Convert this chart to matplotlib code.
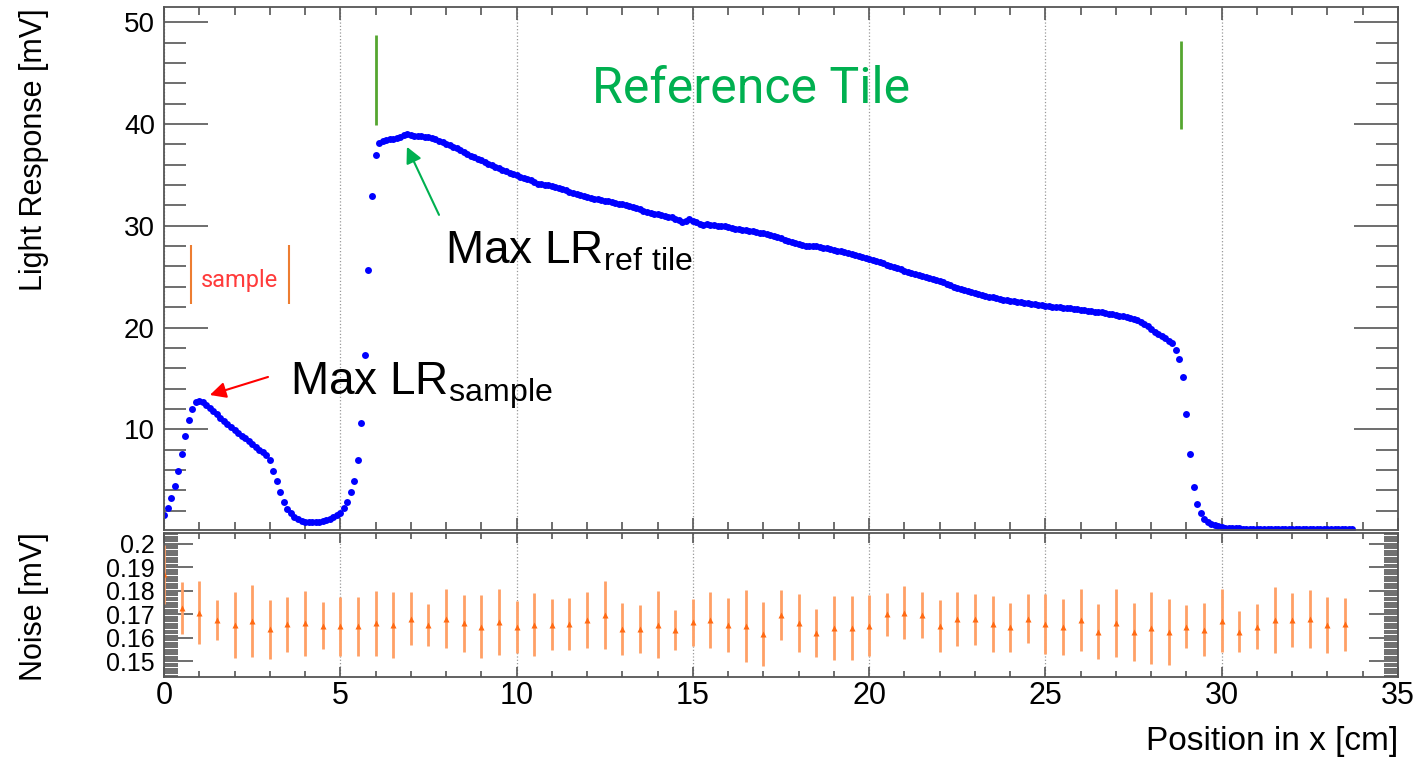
import numpy as np
import matplotlib
matplotlib.use("Agg")
import matplotlib.pyplot as plt
from matplotlib.ticker import MultipleLocator

plt.rcParams['font.family'] = 'Liberation Sans'
plt.rcParams['mathtext.fontset'] = 'custom'
plt.rcParams['mathtext.rm'] = 'Liberation Sans'

# light response along x, scanned in 1 mm steps [mV]
lr_step = 0.1
light_response = [
    1.6, 2.3, 3.2, 4.4, 5.9, 7.6, 9.3, 10.9, 12.0, 12.7,
    12.8, 12.7, 12.4, 12.1, 11.8, 11.5, 11.1, 10.8, 10.5, 10.2,
    9.9, 9.6, 9.35, 9.1, 8.8, 8.55, 8.3, 8.0, 7.75, 7.45,
    7.0, 5.9, 4.9, 3.8, 2.9, 2.2, 1.75, 1.4, 1.15, 1.0,
    0.9, 0.85, 0.85, 0.85, 0.88, 0.95, 1.05, 1.2, 1.35, 1.55,
    1.8, 2.3, 2.9, 3.8, 4.9, 7.0, 10.6, 17.3, 25.7, 32.9,
    37.0, 38.1, 38.3, 38.4, 38.5, 38.5, 38.6, 38.75, 38.9, 39.0,
    38.9, 38.8, 38.8, 38.8, 38.75, 38.7, 38.65, 38.5, 38.35, 38.2,
    38.0, 37.9, 37.75, 37.6, 37.4, 37.25, 37.1, 36.9, 36.75, 36.6,
    36.45, 36.3, 36.1, 35.95, 35.8, 35.65, 35.5, 35.35, 35.2, 35.05,
    34.95, 34.8, 34.7, 34.55, 34.45, 34.3, 34.15, 34.1, 34.0, 34.0,
    33.9, 33.85, 33.7, 33.6, 33.5, 33.35, 33.2, 33.15, 33.0, 32.9,
    32.8, 32.7, 32.65, 32.6, 32.5, 32.45, 32.4, 32.3, 32.2, 32.15,
    32.1, 32.0, 31.9, 31.8, 31.7, 31.6, 31.5, 31.4, 31.3, 31.2,
    31.15, 31.05, 31.0, 30.9, 30.85, 30.7, 30.55, 30.4, 30.45, 30.65,
    30.5, 30.35, 30.2, 30.1, 30.15, 30.05, 30.05, 30.0, 29.95, 29.95,
    29.85, 29.8, 29.7, 29.7, 29.6, 29.55, 29.5, 29.45, 29.4, 29.3,
    29.25, 29.15, 29.1, 29.0, 28.85, 28.75, 28.65, 28.55, 28.4, 28.3,
    28.2, 28.1, 28.05, 28.0, 28.05, 28.0, 27.95, 27.85, 27.8, 27.7,
    27.65, 27.55, 27.5, 27.4, 27.3, 27.25, 27.15, 27.05, 26.95, 26.85,
    26.75, 26.6, 26.5, 26.4, 26.3, 26.15, 26.05, 25.95, 25.85, 25.75,
    25.6, 25.5, 25.4, 25.3, 25.15, 25.05, 24.95, 24.9, 24.8, 24.7,
    24.55, 24.45, 24.3, 24.15, 24.0, 23.9, 23.8, 23.7, 23.6, 23.45,
    23.35, 23.3, 23.2, 23.1, 23.0, 22.95, 22.9, 22.85, 22.75, 22.7,
    22.65, 22.6, 22.55, 22.5, 22.45, 22.4, 22.3, 22.3, 22.2, 22.2,
    22.15, 22.1, 22.05, 22.0, 22.0, 21.95, 21.9, 21.9, 21.85, 21.8,
    21.75, 21.7, 21.65, 21.6, 21.55, 21.55, 21.5, 21.4, 21.35, 21.3,
    21.2, 21.15, 21.1, 21.0, 20.9, 20.8, 20.7, 20.55, 20.35, 20.1,
    19.85, 19.6, 19.35, 19.15, 18.95, 18.7, 18.45, 17.8, 16.9, 15.1,
    11.5, 7.6, 4.3, 2.65, 1.8, 1.2, 0.9, 0.7, 0.55, 0.45,
    0.38, 0.33, 0.3, 0.28, 0.26, 0.25, 0.24, 0.23, 0.22, 0.22,
    0.21, 0.21, 0.2, 0.2, 0.2, 0.19, 0.19, 0.19, 0.18, 0.18,
    0.18, 0.18, 0.18, 0.17, 0.17, 0.17, 0.17, 0.17, 0.17, 0.16,
    0.16, 0.16, 0.16, 0.16, 0.16, 0.16, 0.16, 0.15,
]
lr_pos = np.arange(len(light_response)) * lr_step

# pedestal noise every 5 mm [mV]
noise_step = 0.5
noise = [
    0.1869, 0.1728, 0.1707, 0.1676, 0.1654, 0.1672, 0.1637, 0.1658, 0.1662, 0.1652,
    0.1650, 0.1650, 0.1662, 0.1654, 0.1681, 0.1655, 0.1681, 0.1662, 0.1648, 0.1669,
    0.1646, 0.1655, 0.1655, 0.1660, 0.1676, 0.1697, 0.1638, 0.1638, 0.1655, 0.1634,
    0.1667, 0.1676, 0.1655, 0.1652, 0.1616, 0.1697, 0.1662, 0.1620, 0.1641, 0.1641,
    0.1652, 0.1700, 0.1707, 0.1697, 0.1652, 0.1680, 0.1679, 0.1658, 0.1645, 0.1681,
    0.1658, 0.1648, 0.1676, 0.1627, 0.1662, 0.1627, 0.1641, 0.1627, 0.1648, 0.1634,
    0.1672, 0.1627, 0.1648, 0.1676, 0.1676, 0.1681, 0.1655, 0.1658,
]
noise_err = [
    0.0127, 0.0110, 0.0135, 0.0086, 0.0140, 0.0153, 0.0125, 0.0116, 0.0139, 0.0100,
    0.0125, 0.0125, 0.0137, 0.0140, 0.0113, 0.0090, 0.0125, 0.0120, 0.0135, 0.0140,
    0.0110, 0.0134, 0.0108, 0.0110, 0.0120, 0.0143, 0.0110, 0.0102, 0.0142, 0.0085,
    0.0100, 0.0120, 0.0116, 0.0153, 0.0136, 0.0105, 0.0123, 0.0103, 0.0135, 0.0136,
    0.0130, 0.0090, 0.0112, 0.0098, 0.0110, 0.0116, 0.0109, 0.0118, 0.0105, 0.0104,
    0.0127, 0.0119, 0.0130, 0.0116, 0.0145, 0.0123, 0.0153, 0.0140, 0.0090, 0.0113,
    0.0134, 0.0088, 0.0094, 0.0139, 0.0115, 0.0124, 0.0118, 0.0112,
]
noise_pos = np.arange(len(noise)) * noise_step
noise_ticks = [0.15, 0.16, 0.17, 0.18, 0.19, 0.2]
noise_ticklabels = ['0.15', '0.16', '0.17', '0.18', '0.19', '0.2']

# tile extents [cm]
sample_edges = [0.77, 3.54]
ref_tile_edges = [6.01, 28.84]

W, H = 1416, 761
fig = plt.figure(figsize=(W / 100, H / 100), dpi=100)
ax1 = fig.add_axes([164 / W, 1 - 530 / H, 1234 / W, 523 / H])
ax2 = fig.add_axes([164 / W, 1 - 677 / H, 1234 / W, 144 / H])

frame = '#555555'
for ax in (ax1, ax2):
    ax.set_xlim(0, 35)
    ax.xaxis.set_major_locator(MultipleLocator(5))
    ax.xaxis.set_minor_locator(MultipleLocator(1))
    ax.grid(axis='x', which='major', ls=':', color='#999999', lw=0.9)
    ax.set_axisbelow(True)
    ax.tick_params(which='both', direction='in', top=True, right=True,
                   color=frame, width=1.2)
    for s in ax.spines.values():
        s.set_color(frame)
        s.set_linewidth(1.3)

# upper pad: light response
ax1.plot(lr_pos, light_response, 'o', color='#0000ff', ms=5, mec='none')
ax1.set_ylim(0.1, 51.5)
ax1.set_yticks([10, 20, 30, 40, 50])
ax1.yaxis.set_minor_locator(MultipleLocator(2))
ax1.tick_params(axis='y', which='major', length=32)
ax1.tick_params(axis='y', which='minor', length=16)
ax1.tick_params(axis='x', which='major', length=9)
ax1.tick_params(axis='x', which='minor', length=6)
ax1.tick_params(labelbottom=False, labelsize=20, pad=6.5)

# lower pad: noise
ax2.errorbar(noise_pos, noise, yerr=noise_err, fmt='^', color='#ff6a13',
             ecolor='#ffa066', elinewidth=2, ms=4.5, mec='none', capsize=0)
ax2.set_ylim(0.1434, 0.2045)
ax2.set_yticks(noise_ticks)
ax2.set_yticklabels(noise_ticklabels)
ax2.yaxis.set_minor_locator(MultipleLocator(0.001))
ax2.tick_params(axis='y', which='major', length=21)
ax2.tick_params(axis='y', which='minor', length=10)
ax2.tick_params(axis='x', which='major', length=7)
ax2.tick_params(axis='x', which='minor', length=4)
ax2.tick_params(axis='y', labelsize=18, pad=6.5)
ax2.tick_params(axis='x', labelsize=22, pad=3)

# tile markers and labels
ax1.vlines(sample_edges, 22.3, 28.1, color='#ed7d31', lw=1.5)
ax1.text(sum(sample_edges) / 2, 23.96, 'sample', color='#ff3b3b', fontsize=17,
         family='Roboto', ha='center', va='baseline')
ax1.vlines(ref_tile_edges, [39.9, 39.5], [48.7, 48.2], color='#55a630', lw=2)
ax1.text(16.65, 42.1, 'Reference Tile', color='#00b050', fontsize=36,
         family='Roboto', ha='center', va='baseline')

ax1.annotate('', xy=(1.30, 13.37), xytext=(2.95, 15.14),
             arrowprops=dict(arrowstyle='-|>', color='red', lw=1.5,
                             mutation_scale=24, shrinkA=0, shrinkB=0))
ax1.text(3.57, 13.4, r'Max LR$_{\mathrm{sample}}$', fontsize=33,
         ha='left', va='baseline')
ax1.annotate('', xy=(6.89, 37.76), xytext=(7.80, 31.07),
             arrowprops=dict(arrowstyle='-|>', color='#00b050', lw=1.5,
                             mutation_scale=24, shrinkA=0, shrinkB=0))
ax1.text(7.97, 26.3, r'Max LR$_{\mathrm{ref\ tile}}$', fontsize=33,
         ha='left', va='baseline')

fig.text(34 / W, 1 - 8 / H, 'Light Response [mV]', rotation=90,
         ha='center', va='top', fontsize=22)
fig.text(34 / W, 1 - 532 / H, 'Noise [mV]', rotation=90,
         ha='center', va='top', fontsize=22)
fig.text(1398 / W, 1 - 750 / H, 'Position in x [cm]', ha='right',
         va='baseline', fontsize=24)

fig.savefig('out.png', dpi=100)
